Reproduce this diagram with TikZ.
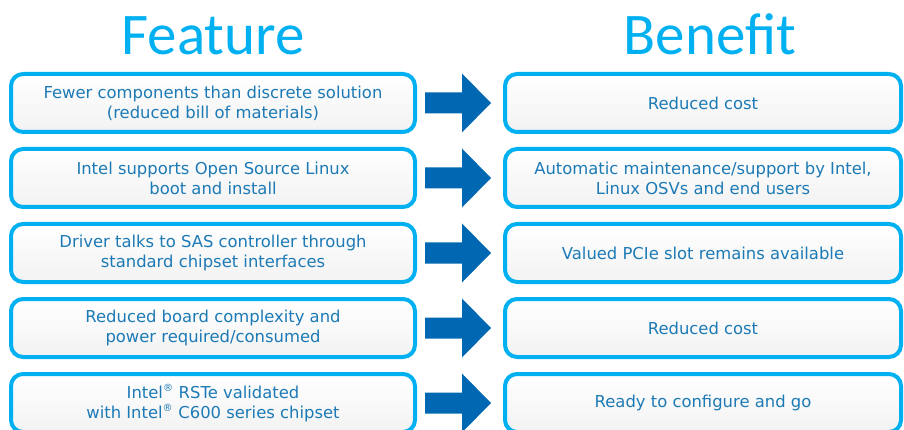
\documentclass[tikz,border=0pt]{standalone}
\usepackage{fontspec}
\newfontfamily\titlefont{Carlito}
\newfontfamily\boxfont{DejaVu Sans}
\definecolor{cyanborder}{RGB}{0,176,240}
\definecolor{arrowblue}{RGB}{0,104,178}
\definecolor{textblue}{RGB}{28,122,182}
\tikzset{
  box/.style={draw=cyanborder, line width=4pt, rounded corners=12pt,
    top color=white, bottom color=black!5, inner sep=0pt,
    minimum height=58pt, text=textblue, align=center,
    font=\boxfont\fontsize{16.4}{20}\selectfont},
  featbox/.style={box, minimum width=404pt},
  benbox/.style={box, minimum width=396pt},
  title/.style={text=cyanborder, font=\titlefont\fontsize{59}{60}\selectfont, anchor=base, inner sep=0pt},
  blockarrow/.style={fill=arrowblue}
}
\newcommand{\reg}{\textsuperscript{\fontsize{10}{10}\selectfont ®}}
\begin{document}
\begin{tikzpicture}[x=1pt,y=-1pt]
\useasboundingbox (0,0) rectangle (904,430);
\node[title] (tf) at (213,55) {Feature};
\node[title] (tb) at (710,55) {Benefit};
\node[featbox] (f1) at (213,103) {Fewer components than discrete solution\\(reduced bill of materials)};
\node[featbox] (f2) at (213,178) {Intel supports Open Source Linux\\boot and install};
\node[featbox] (f3) at (213,253) {Driver talks to SAS controller through\\standard chipset interfaces};
\node[featbox] (f4) at (213,328) {Reduced board complexity and\\power required/consumed};
\node[featbox] (f5) at (213,403) {Intel\reg{} RSTe validated\\with Intel\reg{} C600 series chipset};
\node[benbox] (b1) at (703,103) {Reduced cost};
\node[benbox] (b2) at (703,178) {Automatic maintenance/support by Intel,\\Linux OSVs and end users};
\node[benbox] (b3) at (703,253) {Valued PCIe slot remains available};
\node[benbox] (b4) at (703,328) {Reduced cost};
\node[benbox] (b5) at (703,403) {Ready to configure and go};
\foreach \y in {103,178,253,328,403}{
  \fill[blockarrow] (425,\y-10.5) -- (462,\y-10.5) -- (462,\y-29.5) -- (491,\y) -- (462,\y+29.5) -- (462,\y+10.5) -- (425,\y+10.5) -- cycle;
}
\end{tikzpicture}
\end{document}
